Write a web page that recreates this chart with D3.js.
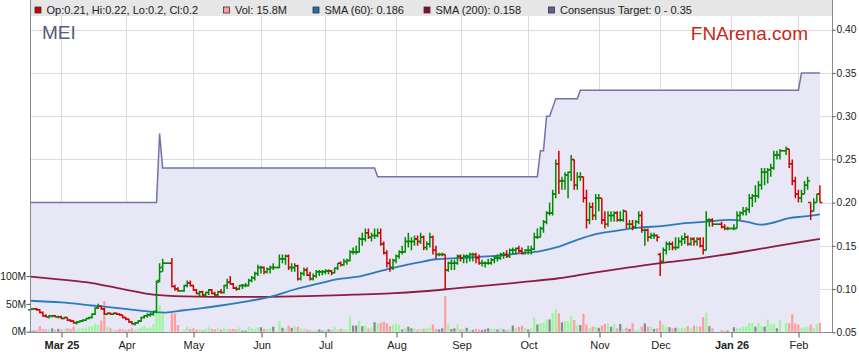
<!DOCTYPE html>
<html><head><meta charset="utf-8">
<script src="https://cdn.jsdelivr.net/npm/d3@7/dist/d3.min.js"></script>
<style>
body{margin:0;background:#fff;}
svg{display:block;font-family:Arial,"Liberation Sans",sans-serif;}
</style></head><body>
<svg id="chart" width="859" height="363"></svg>
<script>
// ---------- DATA ----------
const startDay = [2025, 1, 17];   // 17 Feb 2025 (weekday axis)
const endDay   = [2026, 1, 11];   // 11 Feb 2026
const monthLabels = ["Mar 25","Apr","May","Jun","Jul","Aug","Sep","Oct","Nov","Dec","Jan 26","Feb"];
const priceTicks = [0.05,0.10,0.15,0.20,0.25,0.30,0.35,0.40];
const volTicks = [0,50,100];

const open = [
.076,.077,.077,.076,.073,.069,.068,.069,.069,.068,
.068,.066,.067,.064,.063,.061,.062,.063,.064,.066,
.067,.071,.078,.080,.077,.071,.072,.071,.072,.071,
.070,.067,.065,.062,.060,.061,.063,.067,.069,.070,
.071,.074,.110,.125,.130,.130,.130,.103,.100,.098,
.098,.104,.107,.104,.099,.095,.097,.093,.096,.099,
.095,.093,.097,.096,.104,.108,.106,.101,.100,.104,
.104,.104,.110,.113,.118,.125,.125,.120,.123,.125,
.125,.125,.135,.135,.138,.125,.125,.127,.112,.118,
.122,.116,.112,.115,.120,.120,.120,.121,.121,.119,
.124,.130,.128,.132,.133,.143,.143,.143,.158,.158,
.165,.160,.162,.162,.165,.152,.142,.130,.125,.133,
.138,.143,.143,.155,.155,.155,.158,.155,.160,.148,
.152,.160,.145,.140,.140,.140,.122,.130,.130,.130,
.138,.136,.138,.138,.140,.140,.136,.130,.130,.130,
.130,.134,.136,.136,.140,.140,.138,.145,.145,.147,
.144,.141,.145,.145,.146,.160,.160,.170,.178,.188,
.188,.210,.245,.225,.225,.232,.235,.250,.220,.230,
.230,.205,.180,.195,.185,.205,.205,.180,.175,.185,
.185,.188,.180,.180,.190,.175,.175,.172,.178,.185,
.168,.168,.160,.162,.162,.140,.132,.145,.152,.152,
.148,.148,.155,.158,.160,.152,.158,.155,.158,.150,
.145,.180,.180,.175,.175,.175,.172,.170,.170,.170,
.170,.185,.188,.190,.192,.205,.208,.208,.220,.235,
.235,.238,.240,.255,.255,.260,.260,.262,.245,.225,
.210,.205,.210,.220,.200,.190,.200,.210];
const high = [
.078,.078,.078,.077,.074,.071,.070,.070,.070,.069,
.069,.068,.067,.065,.064,.063,.064,.065,.066,.068,
.072,.079,.083,.081,.078,.073,.073,.073,.073,.072,
.070,.068,.066,.063,.062,.064,.068,.070,.072,.073,
.075,.110,.130,.135,.130,.130,.136,.105,.102,.098,
.105,.110,.110,.105,.100,.098,.098,.097,.100,.100,
.097,.098,.100,.105,.112,.115,.107,.103,.105,.106,
.107,.112,.115,.120,.128,.127,.126,.125,.127,.130,
.125,.140,.140,.140,.140,.130,.130,.128,.120,.125,
.125,.120,.118,.122,.122,.122,.123,.123,.122,.125,
.130,.132,.135,.135,.145,.148,.150,.160,.165,.170,
.170,.165,.170,.170,.170,.155,.145,.135,.135,.140,
.145,.150,.160,.165,.160,.162,.162,.165,.162,.155,
.165,.162,.150,.142,.142,.140,.132,.134,.134,.140,
.140,.140,.140,.142,.142,.142,.140,.134,.132,.135,
.136,.138,.140,.142,.143,.145,.147,.148,.148,.150,
.148,.146,.150,.150,.165,.170,.172,.180,.190,.200,
.215,.250,.260,.230,.235,.236,.255,.250,.235,.235,
.230,.215,.200,.200,.210,.210,.205,.190,.190,.190,
.190,.190,.190,.192,.190,.180,.180,.180,.190,.190,
.170,.170,.165,.165,.163,.142,.148,.155,.155,.155,
.160,.160,.162,.165,.162,.160,.160,.160,.160,.160,
.190,.182,.182,.175,.175,.178,.175,.172,.170,.175,
.190,.190,.195,.195,.210,.210,.220,.225,.240,.240,
.240,.245,.260,.260,.262,.260,.265,.262,.250,.230,
.215,.215,.225,.230,.200,.205,.210,.220];
const low = [
.075,.076,.075,.072,.068,.067,.066,.067,.067,.066,
.065,.065,.063,.062,.060,.059,.061,.062,.063,.065,
.066,.070,.077,.076,.070,.070,.070,.070,.070,.069,
.066,.064,.061,.059,.058,.060,.062,.066,.067,.068,
.069,.072,.108,.120,.130,.130,.102,.098,.097,.098,
.097,.102,.103,.098,.094,.092,.092,.092,.093,.094,
.092,.092,.095,.095,.100,.105,.100,.098,.099,.100,
.102,.103,.108,.110,.115,.118,.117,.118,.118,.122,
.125,.124,.130,.128,.122,.120,.120,.110,.110,.115,
.115,.110,.110,.113,.115,.116,.117,.117,.116,.118,
.122,.126,.127,.128,.132,.140,.140,.142,.150,.155,
.158,.155,.158,.160,.150,.140,.125,.120,.122,.130,
.135,.140,.142,.148,.145,.150,.150,.152,.145,.145,
.148,.140,.135,.138,.138,.100,.120,.122,.122,.128,
.132,.130,.130,.132,.132,.130,.128,.126,.125,.128,
.128,.130,.132,.134,.135,.136,.136,.140,.140,.142,
.140,.140,.140,.140,.145,.158,.160,.165,.175,.185,
.185,.205,.210,.215,.215,.205,.225,.215,.215,.225,
.200,.170,.175,.180,.180,.190,.175,.170,.172,.178,
.178,.178,.178,.178,.170,.170,.168,.170,.175,.165,
.150,.155,.158,.158,.155,.115,.130,.140,.145,.145,
.145,.147,.150,.152,.150,.150,.150,.150,.148,.140,
.145,.172,.172,.175,.175,.170,.168,.168,.170,.168,
.170,.180,.185,.185,.188,.195,.200,.205,.215,.220,
.222,.230,.238,.250,.250,.260,.255,.240,.220,.205,
.200,.200,.210,.215,.180,.190,.200,.200];
const close = [
.077,.077,.076,.073,.069,.068,.069,.069,.068,.068,
.066,.067,.064,.063,.061,.062,.063,.064,.066,.067,
.071,.078,.080,.077,.071,.072,.071,.072,.071,.070,
.067,.065,.062,.060,.061,.063,.067,.069,.070,.071,
.074,.108,.120,.130,.130,.130,.103,.100,.098,.098,
.104,.107,.104,.099,.095,.097,.093,.096,.099,.095,
.093,.097,.096,.104,.108,.106,.101,.100,.104,.104,
.104,.110,.113,.118,.125,.125,.120,.123,.125,.125,
.125,.135,.135,.138,.125,.125,.127,.112,.118,.122,
.116,.112,.115,.120,.120,.120,.121,.121,.119,.124,
.130,.128,.132,.133,.143,.143,.143,.158,.158,.165,
.160,.162,.162,.165,.152,.142,.130,.125,.133,.138,
.143,.143,.155,.155,.155,.158,.155,.160,.148,.152,
.160,.145,.140,.140,.140,.122,.130,.130,.130,.138,
.136,.138,.138,.140,.140,.136,.130,.130,.130,.130,
.134,.136,.136,.140,.140,.138,.145,.145,.147,.144,
.141,.145,.145,.146,.160,.160,.170,.178,.188,.188,
.210,.245,.225,.225,.232,.235,.250,.220,.230,.230,
.205,.180,.195,.185,.205,.205,.180,.175,.185,.185,
.188,.180,.180,.190,.175,.175,.172,.178,.185,.168,
.168,.160,.162,.162,.160,.132,.145,.152,.152,.148,
.148,.155,.158,.160,.152,.158,.155,.158,.150,.145,
.180,.180,.175,.175,.175,.172,.170,.170,.170,.170,
.185,.188,.190,.192,.205,.208,.208,.220,.235,.235,
.238,.240,.255,.255,.260,.260,.262,.245,.225,.210,
.205,.210,.220,.225,.190,.200,.210,.200];
const volumeM = [
3,2,3,10,5,4,4,6,3,5,
4,5,6,5,9,4,6,6,7,9,
10,14,12,20,55,8,6,4,3,5,
4,3,4,6,3,5,8,10,7,8,
14,40,48,38,0,0,33,33,12,0,
4,9,5,6,4,4,3,5,8,5,
4,6,4,8,5,4,5,4,8,2,
2,9,6,5,8,8,5,5,6,9,
0,19,7,5,11,7,10,9,6,6,
4,3,2,3,4,2,3,4,3,8,
4,5,5,4,27,11,11,20,10,11,
6,8,17,15,16,18,15,10,13,15,
12,4,7,9,6,6,4,5,5,7,
7,13,5,4,6,64,13,5,6,13,
4,5,7,4,3,5,4,3,4,6,
5,5,4,7,4,3,4,11,7,9,
11,7,4,6,25,13,15,16,22,22,
33,40,33,17,19,19,28,21,12,12,
32,13,7,9,9,7,11,14,15,9,
14,6,14,5,7,5,15,3,4,9,
15,9,9,5,6,20,13,9,8,6,
7,6,7,7,10,6,11,10,9,26,
34,10,6,0,0,3,2,2,0,8,
6,7,9,10,16,16,9,16,10,9,
22,13,14,6,21,0,16,15,31,15,
13,7,8,9,13,7,13,16];

const sma60Idx = [0,10,20,30,40,44,50,56,62,70,78,86,94,100,106,112,118,126,132,140,150,160,166,172,178,184,190,198,206,214,220,228,233,238,242,247,252,257];
const sma60Val = [.0865,.0845,.081,.0775,.0735,.0728,.0755,.078,.081,.0855,.091,.0995,.1065,.1115,.114,.119,.1245,.1305,.1345,.136,.138,.1415,.144,.149,.157,.1635,.167,.171,.173,.1765,.178,.18,.178,.1745,.177,.182,.184,.1865];
const sma200Idx = [0,10,20,30,40,50,60,75,90,105,117,128,139,150,160,172,180,189,197,205,218,230,240,250,257];
const sma200Val = [.1145,.111,.107,.1,.0935,.0915,.091,.091,.0918,.0935,.095,.0975,.101,.1045,.108,.1125,.117,.122,.126,.13,.1356,.142,.148,.154,.158];

const targetStart = [0,42,43,113,166,168,170,171,179,251];
const targetValue = [0.20,0.28,0.24,0.23,0.26,0.30,0.31,0.32,0.33,0.35];

// ---------- BUILD ----------
const dates = [];
{ let d = new Date(Date.UTC(...startDay)); const e = new Date(Date.UTC(...endDay));
  while (d <= e) { const w = d.getUTCDay(); if (w > 0 && w < 6) dates.push(new Date(d)); d.setUTCDate(d.getUTCDate()+1); } }
const n = close.length;
const idx = d3.range(n);
const target = idx.map(i => { let v = targetValue[0]; targetStart.forEach((s,k)=>{ if (i >= s) v = targetValue[k]; }); return v; });
const monthIdx = idx.filter(i => i > 0 && dates[i] && dates[i].getUTCMonth() !== dates[i-1].getUTCMonth());

const L = 30, R = 832, T = 16, B = 332;
const x = d3.scaleLinear().domain([0, n-1]).range([30.6, 819.9]);
const y = d3.scaleLinear().domain([0.05, 0.40]).range([332.3, 29.7]);
const yv = d3.scaleLinear().domain([0, 100]).range([331.7, 276.1]);

const svg = d3.select("#chart");
svg.append("rect").attr("width",859).attr("height",363).attr("fill","#fff");

// gridlines
const grid = svg.append("g").attr("stroke","#dcdcdc").attr("stroke-width",1);
grid.selectAll("line.v").data(monthIdx).join("line")
  .attr("x1",i=>Math.round(x(i))+0.5).attr("x2",i=>Math.round(x(i))+0.5).attr("y1",T).attr("y2",B);
grid.selectAll("line.h").data(priceTicks).join("line")
  .attr("x1",L).attr("x2",R).attr("y1",p=>Math.round(y(p))+0.5).attr("y2",p=>Math.round(y(p))+0.5);

// consensus target area + line
svg.append("path").datum(idx)
  .attr("d", d3.area().x(i=>x(i)).y0(B).y1(i=>y(target[i])))
  .attr("fill","#e7e7f6");
svg.append("path").datum(idx)
  .attr("d", d3.line().x(i=>x(i)).y(i=>y(target[i])))
  .attr("fill","none").attr("stroke","#7373a8").attr("stroke-width",1.5);

// volume bars
const dir = i => i === 0 ? Math.sign(close[0]-open[0]) : Math.sign(close[i]-close[i-1]);
svg.append("g").selectAll("rect").data(idx.filter(i=>volumeM[i]>0)).join("rect")
  .attr("x",i=>x(i)-1.1).attr("width",2.2)
  .attr("y",i=>yv(volumeM[i])).attr("height",i=>yv(0)-yv(volumeM[i]))
  .attr("fill",i=>{const s=dir(i); return s>0?"#9cf79c":(s<0?"#ff9d9d":"#888888");});

// SMA lines
const smaLine = d3.line().x(d=>x(d[0])).y(d=>y(d[1])).curve(d3.curveMonotoneX);
svg.append("path").datum(sma200Idx.map((k,j)=>[k,sma200Val[j]]))
  .attr("d",smaLine).attr("fill","none").attr("stroke","#8c1d40").attr("stroke-width",1.8);
svg.append("path").datum(sma60Idx.map((k,j)=>[k,sma60Val[j]]))
  .attr("d",smaLine).attr("fill","none").attr("stroke","#2b7bba").attr("stroke-width",1.8);

// OHLC bars
svg.append("g").selectAll("path").data(idx).join("path")
  .attr("d", i => { const cx = x(i);
    return `M${cx},${y(high[i])}V${y(low[i])}M${cx-2.5},${y(open[i])}H${cx}M${cx},${y(close[i])}H${cx+2.5}`; })
  .attr("fill","none").attr("stroke-width",1.5)
  .attr("stroke", i => dir(i) < 0 ? "#d40000" : "#008a00");

// frame lines
const frame = svg.append("g").attr("stroke","#8a8a8a").attr("stroke-width",1);
frame.append("line").attr("x1",L+0.5).attr("x2",L+0.5).attr("y1",0).attr("y2",B);
frame.append("line").attr("x1",R+0.5).attr("x2",R+0.5).attr("y1",0).attr("y2",B);
frame.append("line").attr("x1",L).attr("x2",R+1).attr("y1",B+0.5).attr("y2",B+0.5);

// right price axis
const ra = svg.append("g").attr("transform",`translate(${R+0.5},0)`)
  .call(d3.axisRight(y).tickValues(priceTicks).tickFormat(d3.format(".2f")).tickSize(3).tickPadding(1));
ra.select(".domain").remove();
// left volume axis
const la = svg.append("g").attr("transform",`translate(${L+0.5},0)`)
  .call(d3.axisLeft(yv).tickValues(volTicks).tickFormat(d=>d+"M").tickSize(4).tickPadding(0.5));
la.select(".domain").remove();
// bottom month axis
const xb = d3.scaleOrdinal().domain(monthIdx).range(monthIdx.map(i=>Math.round(x(i))+0.5));
const ba = svg.append("g").attr("transform",`translate(0,${B+0.5})`)
  .call(d3.axisBottom(xb).tickFormat((d,k)=>monthLabels[k]).tickSize(5).tickPadding(4));
ba.select(".domain").remove();
ba.selectAll("text").attr("font-weight",(d,k)=>monthLabels[k].includes(" ")?"bold":"normal");
[ra,la,ba].forEach(a=>{ a.selectAll("text").attr("font-size",11).attr("fill","#222").attr("font-family","Arial, Liberation Sans, sans-serif");
  a.selectAll(".tick line").attr("stroke","#555"); });
ra.selectAll("text").attr("font-size",10.3);
la.selectAll("text").attr("font-size",10.3);

// legend band
svg.append("rect").attr("x",L+1).attr("y",0).attr("width",R-L-1).attr("height",16).attr("fill","#e6e6e6");
const legendItems = [
  {tx:46.5, color:"#cc0000", label:"Op:0.21, Hi:0.22, Lo:0.2, Cl:0.2"},
  {tx:235, color:"#ff9d9d", label:"Vol: 15.8M"},
  {tx:324.5, color:"#1f6eb0", label:"SMA (60): 0.186"},
  {tx:435.5, color:"#8c0a32", label:"SMA (200): 0.158"},
  {tx:560, color:"#5f5f94", label:"Consensus Target: 0 - 0.35"}
];
const lg = svg.append("g");
lg.selectAll("rect").data(legendItems).join("rect")
  .attr("x",d=>d.tx-11.5).attr("y",7).attr("width",6).attr("height",6)
  .attr("fill",d=>d.color).attr("stroke","#333").attr("stroke-width",0.8);
lg.selectAll("text").data(legendItems).join("text")
  .attr("x",d=>d.tx).attr("y",14).attr("font-size",11).attr("fill","#222").text(d=>d.label);

// titles
svg.append("text").attr("x",42).attr("y",39).attr("font-size",19).attr("fill","#535c7a").text("MEI");
svg.append("text").attr("x",808).attr("y",40).attr("text-anchor","end").attr("font-size",19).attr("fill","#c52a1c").text("FNArena.com");
</script>
</body></html>
